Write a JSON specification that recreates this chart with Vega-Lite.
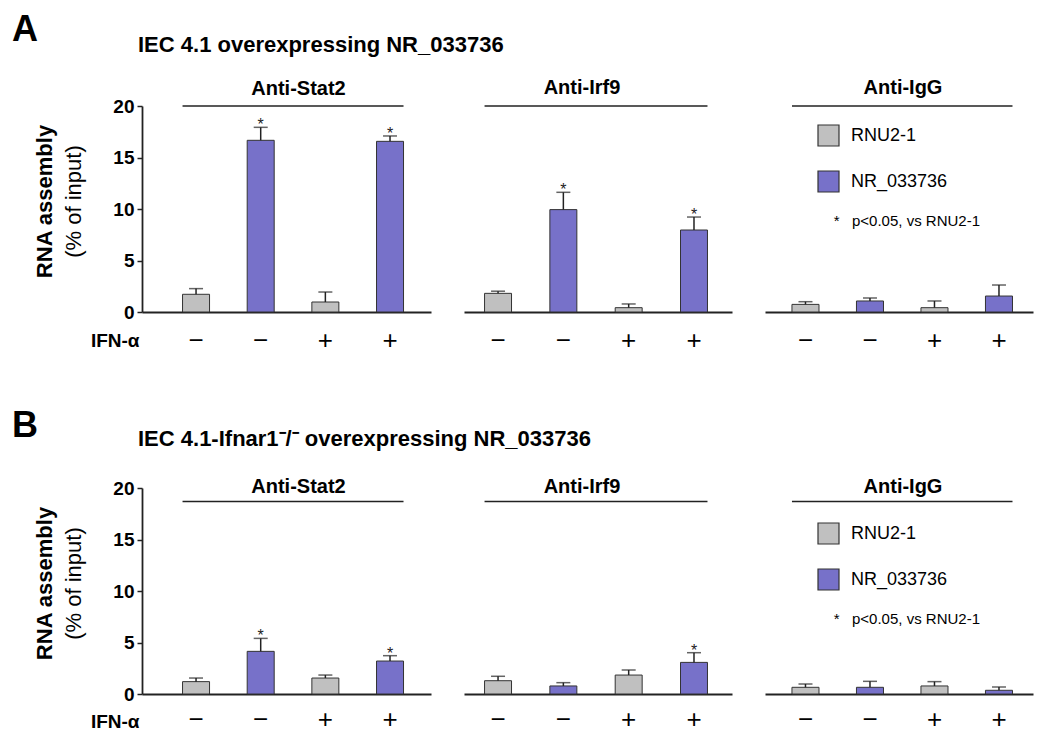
{
  "$schema": "https://vega.github.io/schema/vega-lite/v6.json",
  "padding": {"left": 12, "top": 12, "right": 4, "bottom": 0},
  "background": "white",
  "config": {
    "view": {"stroke": null},
    "font": "Liberation Sans",
    "axis": {"labelFont": "Liberation Sans", "titleFont": "Liberation Sans", "labelColor": "#000", "titleColor": "#000", "domainColor": "#222", "tickColor": "#222", "grid": false},
    "title": {"font": "Liberation Sans", "color": "#000", "fontWeight": "bold"},
    "legend": {"labelFont": "Liberation Sans", "titleFont": "Liberation Sans"},
    "text": {"font": "Liberation Sans"}
  },
  "datasets": {
    "A": [
      {"panel": "Anti-Stat2", "cond": "1", "rna": "RNU2-1", "value": 1.72, "top": 2.27, "sig": false},
      {"panel": "Anti-Stat2", "cond": "2", "rna": "NR_033736", "value": 16.67, "top": 17.93, "sig": true},
      {"panel": "Anti-Stat2", "cond": "3", "rna": "RNU2-1", "value": 0.97, "top": 1.94, "sig": false},
      {"panel": "Anti-Stat2", "cond": "4", "rna": "NR_033736", "value": 16.57, "top": 17.09, "sig": true},
      {"panel": "Anti-Irf9", "cond": "1", "rna": "RNU2-1", "value": 1.81, "top": 2.02, "sig": false},
      {"panel": "Anti-Irf9", "cond": "2", "rna": "NR_033736", "value": 9.94, "top": 11.62, "sig": true},
      {"panel": "Anti-Irf9", "cond": "3", "rna": "RNU2-1", "value": 0.42, "top": 0.78, "sig": false},
      {"panel": "Anti-Irf9", "cond": "4", "rna": "NR_033736", "value": 7.96, "top": 9.22, "sig": true},
      {"panel": "Anti-IgG", "cond": "1", "rna": "RNU2-1", "value": 0.74, "top": 1.0, "sig": false},
      {"panel": "Anti-IgG", "cond": "2", "rna": "NR_033736", "value": 1.07, "top": 1.36, "sig": false},
      {"panel": "Anti-IgG", "cond": "3", "rna": "RNU2-1", "value": 0.42, "top": 1.07, "sig": false},
      {"panel": "Anti-IgG", "cond": "4", "rna": "NR_033736", "value": 1.55, "top": 2.62, "sig": false}
    ],
    "B": [
      {"panel": "Anti-Stat2", "cond": "1", "rna": "RNU2-1", "value": 1.2, "top": 1.55, "sig": false},
      {"panel": "Anti-Stat2", "cond": "2", "rna": "NR_033736", "value": 4.14, "top": 5.4, "sig": true},
      {"panel": "Anti-Stat2", "cond": "3", "rna": "RNU2-1", "value": 1.55, "top": 1.84, "sig": false},
      {"panel": "Anti-Stat2", "cond": "4", "rna": "NR_033736", "value": 3.2, "top": 3.72, "sig": true},
      {"panel": "Anti-Irf9", "cond": "1", "rna": "RNU2-1", "value": 1.29, "top": 1.72, "sig": false},
      {"panel": "Anti-Irf9", "cond": "2", "rna": "NR_033736", "value": 0.78, "top": 1.1, "sig": false},
      {"panel": "Anti-Irf9", "cond": "3", "rna": "RNU2-1", "value": 1.84, "top": 2.33, "sig": false},
      {"panel": "Anti-Irf9", "cond": "4", "rna": "NR_033736", "value": 3.07, "top": 4.01, "sig": true},
      {"panel": "Anti-IgG", "cond": "1", "rna": "RNU2-1", "value": 0.65, "top": 0.97, "sig": false},
      {"panel": "Anti-IgG", "cond": "2", "rna": "NR_033736", "value": 0.65, "top": 1.23, "sig": false},
      {"panel": "Anti-IgG", "cond": "3", "rna": "RNU2-1", "value": 0.78, "top": 1.2, "sig": false},
      {"panel": "Anti-IgG", "cond": "4", "rna": "NR_033736", "value": 0.36, "top": 0.68, "sig": false}
    ]
  },
  "spacing": 55,
  "resolve": {"legend": {"color": "independent"}},
  "vconcat": [
    {
      "title": {"text": "A", "anchor": "start", "fontSize": 36, "fontWeight": "bold", "dx": -21, "dy": 15, "offset": 0},
      "resolve": {"legend": {"color": "independent"}},
      "vconcat": [
        {
          "title": {"text": "IEC 4.1 overexpressing NR_033736", "anchor": "start", "fontSize": 22, "fontWeight": "bold", "dx": 105, "offset": 21},
          "spacing": 33,
          "resolve": {"legend": {"color": "independent"}},
          "hconcat": [
            {
              "width": 289, "height": 206,
              "title": {"text": "Anti-Stat2", "fontSize": 20, "dx": 12, "offset": -2, "frame": "group"},
              "data": {"name": "A"},
              "transform": [{"filter": "datum.panel === 'Anti-Stat2'"}],
              "encoding": {
                "x": {"field": "cond", "type": "nominal",
                  "scale": {"type": "band", "domain": ["1", "2", "3", "4"], "paddingInner": 0.5825, "paddingOuter": 0.526, "align": 0.596},
                  "axis": {"title": "IFN-α", "titleX": -3, "titleY": 34, "titleAlign": "right", "titleBaseline": "alphabetic", "titleAngle": 0, "titleFontSize": 19, "titleFontWeight": "bold",
                    "labelExpr": "datum.value == '1' || datum.value == '2' ? '−' : '+'", "labelAngle": 0, "labelFontSize": 26, "labelBaseline": "alphabetic", "labelPadding": 36, "ticks": false, "tickSize": 0, "domainWidth": 1.8}}
              },
              "resolve": {"scale": {"y": "independent"}},
              "layer": [
                {
                  "layer": [
                    {"mark": {"type": "bar", "stroke": "#333", "strokeWidth": 1},
                      "encoding": {
                        "y": {"field": "value", "type": "quantitative", "scale": {"domain": [0, 20], "nice": false},
                          "axis": {"values": [0, 2.5, 5, 7.5, 10, 12.5, 15, 17.5, 20], "labelExpr": "datum.value % 5 === 0 ? datum.label : ''", "tickSize": 5, "tickWidth": 1.5, "labelFontSize": 19, "labelFontWeight": "bold", "labelPadding": 3, "domainWidth": 1.8,
                            "title": "RNA assembly", "titleFontSize": 22, "titleFontWeight": "bold", "titleX": -86, "titleY": 95}},
                        "color": {"field": "rna", "type": "nominal", "scale": {"domain": ["RNU2-1", "NR_033736"], "range": ["#c0c0c0", "#7771c9"]}, "legend": null}
                      }},
                    {"mark": {"type": "rule", "color": "#222", "strokeWidth": 1.5},
                      "encoding": {"y": {"field": "value", "type": "quantitative"}, "y2": {"field": "top"}}},
                    {"mark": {"type": "tick", "color": "#222", "thickness": 1.5, "size": 14},
                      "encoding": {"y": {"field": "top", "type": "quantitative"}}},
                    {"transform": [{"filter": "datum.sig"}],
                      "mark": {"type": "text", "text": "*", "fontSize": 16, "baseline": "alphabetic", "dy": 3, "color": "#222"},
                      "encoding": {"y": {"field": "top", "type": "quantitative"}}},
                    {"data": {"values": [{}]},
                      "mark": {"type": "rule", "color": "#222", "strokeWidth": 1.5},
                      "encoding": {"x": {"datum": "1", "bandPosition": 0}, "x2": {"datum": "4", "bandPosition": 1}, "y": {"datum": 20, "type": "quantitative"}}}
                  ]
                },
                {"mark": {"type": "point", "opacity": 0},
                  "encoding": {"y": {"datum": 0, "type": "quantitative", "scale": {"domain": [0, 20]},
                    "axis": {"orient": "left", "title": "(% of input)", "titleFontSize": 22, "titleFontWeight": "normal", "titleX": -57, "titleY": 95, "labels": false, "ticks": false, "domain": false, "grid": false}}}}
              ]
            },
            {
              "width": 268, "height": 206,
              "title": {"text": "Anti-Irf9", "fontSize": 20, "dx": -16, "offset": 7, "frame": "group"},
              "data": {"name": "A"},
              "transform": [{"filter": "datum.panel === 'Anti-Irf9'"}],
              "encoding": {
                "x": {"field": "cond", "type": "nominal",
                  "scale": {"type": "band", "domain": ["1", "2", "3", "4"], "paddingInner": 0.587, "paddingOuter": 0.345, "align": 0.456},
                  "axis": {"title": null, "labelExpr": "datum.value == '1' || datum.value == '2' ? '−' : '+'", "labelAngle": 0, "labelFontSize": 26, "labelBaseline": "alphabetic", "labelPadding": 36, "ticks": false, "tickSize": 0, "domainWidth": 1.8}}
              },
              "layer": [
                {"mark": {"type": "bar", "stroke": "#333", "strokeWidth": 1},
                  "encoding": {
                    "y": {"field": "value", "type": "quantitative", "scale": {"domain": [0, 20], "nice": false}, "axis": null},
                    "color": {"field": "rna", "type": "nominal", "scale": {"domain": ["RNU2-1", "NR_033736"], "range": ["#c0c0c0", "#7771c9"]}, "legend": null}
                  }},
                {"mark": {"type": "rule", "color": "#222", "strokeWidth": 1.5},
                  "encoding": {"y": {"field": "value", "type": "quantitative", "axis": null}, "y2": {"field": "top"}}},
                {"mark": {"type": "tick", "color": "#222", "thickness": 1.5, "size": 14},
                  "encoding": {"y": {"field": "top", "type": "quantitative", "axis": null}}},
                {"transform": [{"filter": "datum.sig"}],
                  "mark": {"type": "text", "text": "*", "fontSize": 16, "baseline": "alphabetic", "dy": 3, "color": "#222"},
                  "encoding": {"y": {"field": "top", "type": "quantitative", "axis": null}}},
                {"data": {"values": [{}]},
                  "mark": {"type": "rule", "color": "#222", "strokeWidth": 1.5},
                  "encoding": {"x": {"datum": "1", "bandPosition": 0}, "x2": {"datum": "4", "bandPosition": 1}, "y": {"datum": 20, "type": "quantitative", "axis": null}}}
              ]
            },
            {
              "width": 268, "height": 206,
              "title": {"text": "Anti-IgG", "fontSize": 20, "dx": 4, "offset": 7, "frame": "group"},
              "data": {"name": "A"},
              "transform": [{"filter": "datum.panel === 'Anti-IgG'"}],
              "encoding": {
                "x": {"field": "cond", "type": "nominal",
                  "scale": {"type": "band", "domain": ["1", "2", "3", "4"], "paddingInner": 0.581, "paddingOuter": 0.368, "align": 0.568},
                  "axis": {"title": null, "labelExpr": "datum.value == '1' || datum.value == '2' ? '−' : '+'", "labelAngle": 0, "labelFontSize": 26, "labelBaseline": "alphabetic", "labelPadding": 36, "ticks": false, "tickSize": 0, "domainWidth": 1.8}}
              },
              "layer": [
                {"mark": {"type": "bar", "stroke": "#333", "strokeWidth": 1},
                  "encoding": {
                    "y": {"field": "value", "type": "quantitative", "scale": {"domain": [0, 20], "nice": false}, "axis": null},
                    "color": {"field": "rna", "type": "nominal", "scale": {"domain": ["RNU2-1", "NR_033736"], "range": ["#c0c0c0", "#7771c9"]},
                      "legend": {"orient": "none", "legendX": 52, "legendY": 18, "title": "\u200b\u00a0\u00a0\u00a0\u00a0*\u00a0\u00a0\u00a0p<0.05, vs RNU2-1", "titleOrient": "bottom", "titleFontWeight": "normal", "titleFontSize": 15, "titleColor": "#000", "titlePadding": 20,
                        "symbolType": "square", "symbolSize": 441, "symbolStrokeColor": "#333", "symbolStrokeWidth": 1.2, "symbolOpacity": 1, "labelFontSize": 18, "labelColor": "#000", "labelOffset": 11, "rowPadding": 19, "padding": 0}}
                  }},
                {"mark": {"type": "rule", "color": "#222", "strokeWidth": 1.5},
                  "encoding": {"y": {"field": "value", "type": "quantitative", "axis": null}, "y2": {"field": "top"}}},
                {"mark": {"type": "tick", "color": "#222", "thickness": 1.5, "size": 14},
                  "encoding": {"y": {"field": "top", "type": "quantitative", "axis": null}}},
                {"data": {"values": [{}]},
                  "mark": {"type": "rule", "color": "#222", "strokeWidth": 1.5},
                  "encoding": {"x": {"datum": "1", "bandPosition": 0}, "x2": {"datum": "4", "bandPosition": 1}, "y": {"datum": 20, "type": "quantitative", "axis": null}}}
              ]
            }
          ]
        }
      ]
    },
    {
      "title": {"text": "B", "anchor": "start", "fontSize": 36, "fontWeight": "bold", "dx": -21, "dy": 17, "offset": 0},
      "resolve": {"legend": {"color": "independent"}},
      "vconcat": [
        {
          "title": {"text": "IEC 4.1-Ifnar1⁻/⁻ overexpressing NR_033736", "anchor": "start", "fontSize": 22, "fontWeight": "bold", "dx": 105, "offset": 26},
          "spacing": 33,
          "resolve": {"legend": {"color": "independent"}},
          "hconcat": [
            {
              "width": 289, "height": 206,
              "title": {"text": "Anti-Stat2", "fontSize": 20, "dx": 12, "offset": -18, "frame": "group"},
              "data": {"name": "B"},
              "transform": [{"filter": "datum.panel === 'Anti-Stat2'"}],
              "encoding": {
                "x": {"field": "cond", "type": "nominal",
                  "scale": {"type": "band", "domain": ["1", "2", "3", "4"], "paddingInner": 0.5825, "paddingOuter": 0.526, "align": 0.596},
                  "axis": {"title": "IFN-α", "titleX": -3, "titleY": 33, "titleAlign": "right", "titleBaseline": "alphabetic", "titleAngle": 0, "titleFontSize": 19, "titleFontWeight": "bold",
                    "labelExpr": "datum.value == '1' || datum.value == '2' ? '−' : '+'", "labelAngle": 0, "labelFontSize": 26, "labelBaseline": "alphabetic", "labelPadding": 33, "ticks": false, "tickSize": 0, "domainWidth": 1.8}}
              },
              "resolve": {"scale": {"y": "independent"}},
              "layer": [
                {
                  "layer": [
                    {"mark": {"type": "bar", "stroke": "#333", "strokeWidth": 1},
                      "encoding": {
                        "y": {"field": "value", "type": "quantitative", "scale": {"domain": [0, 20], "nice": false},
                          "axis": {"values": [0, 2.5, 5, 7.5, 10, 12.5, 15, 17.5, 20], "labelExpr": "datum.value % 5 === 0 ? datum.label : ''", "tickSize": 5, "tickWidth": 1.5, "labelFontSize": 19, "labelFontWeight": "bold", "labelPadding": 3, "domainWidth": 1.8,
                            "title": "RNA assembly", "titleFontSize": 22, "titleFontWeight": "bold", "titleX": -86, "titleY": 95}},
                        "color": {"field": "rna", "type": "nominal", "scale": {"domain": ["RNU2-1", "NR_033736"], "range": ["#c0c0c0", "#7771c9"]}, "legend": null}
                      }},
                    {"mark": {"type": "rule", "color": "#222", "strokeWidth": 1.5},
                      "encoding": {"y": {"field": "value", "type": "quantitative"}, "y2": {"field": "top"}}},
                    {"mark": {"type": "tick", "color": "#222", "thickness": 1.5, "size": 14},
                      "encoding": {"y": {"field": "top", "type": "quantitative"}}},
                    {"transform": [{"filter": "datum.sig"}],
                      "mark": {"type": "text", "text": "*", "fontSize": 16, "baseline": "alphabetic", "dy": 3, "color": "#222"},
                      "encoding": {"y": {"field": "top", "type": "quantitative"}}},
                    {"data": {"values": [{}]},
                      "mark": {"type": "rule", "color": "#222", "strokeWidth": 1.5},
                      "encoding": {"x": {"datum": "1", "bandPosition": 0}, "x2": {"datum": "4", "bandPosition": 1}, "y": {"datum": 18.7, "type": "quantitative"}}}
                  ]
                },
                {"mark": {"type": "point", "opacity": 0},
                  "encoding": {"y": {"datum": 0, "type": "quantitative", "scale": {"domain": [0, 20]},
                    "axis": {"orient": "left", "title": "(% of input)", "titleFontSize": 22, "titleFontWeight": "normal", "titleX": -57, "titleY": 95, "labels": false, "ticks": false, "domain": false, "grid": false}}}}
              ]
            },
            {
              "width": 268, "height": 206,
              "title": {"text": "Anti-Irf9", "fontSize": 20, "dx": -16, "offset": -9, "frame": "group"},
              "data": {"name": "B"},
              "transform": [{"filter": "datum.panel === 'Anti-Irf9'"}],
              "encoding": {
                "x": {"field": "cond", "type": "nominal",
                  "scale": {"type": "band", "domain": ["1", "2", "3", "4"], "paddingInner": 0.587, "paddingOuter": 0.345, "align": 0.456},
                  "axis": {"title": null, "labelExpr": "datum.value == '1' || datum.value == '2' ? '−' : '+'", "labelAngle": 0, "labelFontSize": 26, "labelBaseline": "alphabetic", "labelPadding": 33, "ticks": false, "tickSize": 0, "domainWidth": 1.8}}
              },
              "layer": [
                {"mark": {"type": "bar", "stroke": "#333", "strokeWidth": 1},
                  "encoding": {
                    "y": {"field": "value", "type": "quantitative", "scale": {"domain": [0, 20], "nice": false}, "axis": null},
                    "color": {"field": "rna", "type": "nominal", "scale": {"domain": ["RNU2-1", "NR_033736"], "range": ["#c0c0c0", "#7771c9"]}, "legend": null}
                  }},
                {"mark": {"type": "rule", "color": "#222", "strokeWidth": 1.5},
                  "encoding": {"y": {"field": "value", "type": "quantitative", "axis": null}, "y2": {"field": "top"}}},
                {"mark": {"type": "tick", "color": "#222", "thickness": 1.5, "size": 14},
                  "encoding": {"y": {"field": "top", "type": "quantitative", "axis": null}}},
                {"transform": [{"filter": "datum.sig"}],
                  "mark": {"type": "text", "text": "*", "fontSize": 16, "baseline": "alphabetic", "dy": 3, "color": "#222"},
                  "encoding": {"y": {"field": "top", "type": "quantitative", "axis": null}}},
                {"data": {"values": [{}]},
                  "mark": {"type": "rule", "color": "#222", "strokeWidth": 1.5},
                  "encoding": {"x": {"datum": "1", "bandPosition": 0}, "x2": {"datum": "4", "bandPosition": 1}, "y": {"datum": 18.7, "type": "quantitative", "axis": null}}}
              ]
            },
            {
              "width": 268, "height": 206,
              "title": {"text": "Anti-IgG", "fontSize": 20, "dx": 4, "offset": -9, "frame": "group"},
              "data": {"name": "B"},
              "transform": [{"filter": "datum.panel === 'Anti-IgG'"}],
              "encoding": {
                "x": {"field": "cond", "type": "nominal",
                  "scale": {"type": "band", "domain": ["1", "2", "3", "4"], "paddingInner": 0.581, "paddingOuter": 0.368, "align": 0.568},
                  "axis": {"title": null, "labelExpr": "datum.value == '1' || datum.value == '2' ? '−' : '+'", "labelAngle": 0, "labelFontSize": 26, "labelBaseline": "alphabetic", "labelPadding": 33, "ticks": false, "tickSize": 0, "domainWidth": 1.8}}
              },
              "layer": [
                {"mark": {"type": "bar", "stroke": "#333", "strokeWidth": 1},
                  "encoding": {
                    "y": {"field": "value", "type": "quantitative", "scale": {"domain": [0, 20], "nice": false}, "axis": null},
                    "color": {"field": "rna", "type": "nominal", "scale": {"domain": ["RNU2-1", "NR_033736"], "range": ["#c0c0c0", "#7771c9"]},
                      "legend": {"orient": "none", "legendX": 52, "legendY": 34, "title": "\u200b\u00a0\u00a0\u00a0\u00a0*\u00a0\u00a0\u00a0p<0.05, vs RNU2-1", "titleOrient": "bottom", "titleFontWeight": "normal", "titleFontSize": 15, "titleColor": "#000", "titlePadding": 20,
                        "symbolType": "square", "symbolSize": 441, "symbolStrokeColor": "#333", "symbolStrokeWidth": 1.2, "symbolOpacity": 1, "labelFontSize": 18, "labelColor": "#000", "labelOffset": 11, "rowPadding": 19, "padding": 0}}
                  }},
                {"mark": {"type": "rule", "color": "#222", "strokeWidth": 1.5},
                  "encoding": {"y": {"field": "value", "type": "quantitative", "axis": null}, "y2": {"field": "top"}}},
                {"mark": {"type": "tick", "color": "#222", "thickness": 1.5, "size": 14},
                  "encoding": {"y": {"field": "top", "type": "quantitative", "axis": null}}},
                {"data": {"values": [{}]},
                  "mark": {"type": "rule", "color": "#222", "strokeWidth": 1.5},
                  "encoding": {"x": {"datum": "1", "bandPosition": 0}, "x2": {"datum": "4", "bandPosition": 1}, "y": {"datum": 18.7, "type": "quantitative", "axis": null}}}
              ]
            }
          ]
        }
      ]
    }
  ]
}
